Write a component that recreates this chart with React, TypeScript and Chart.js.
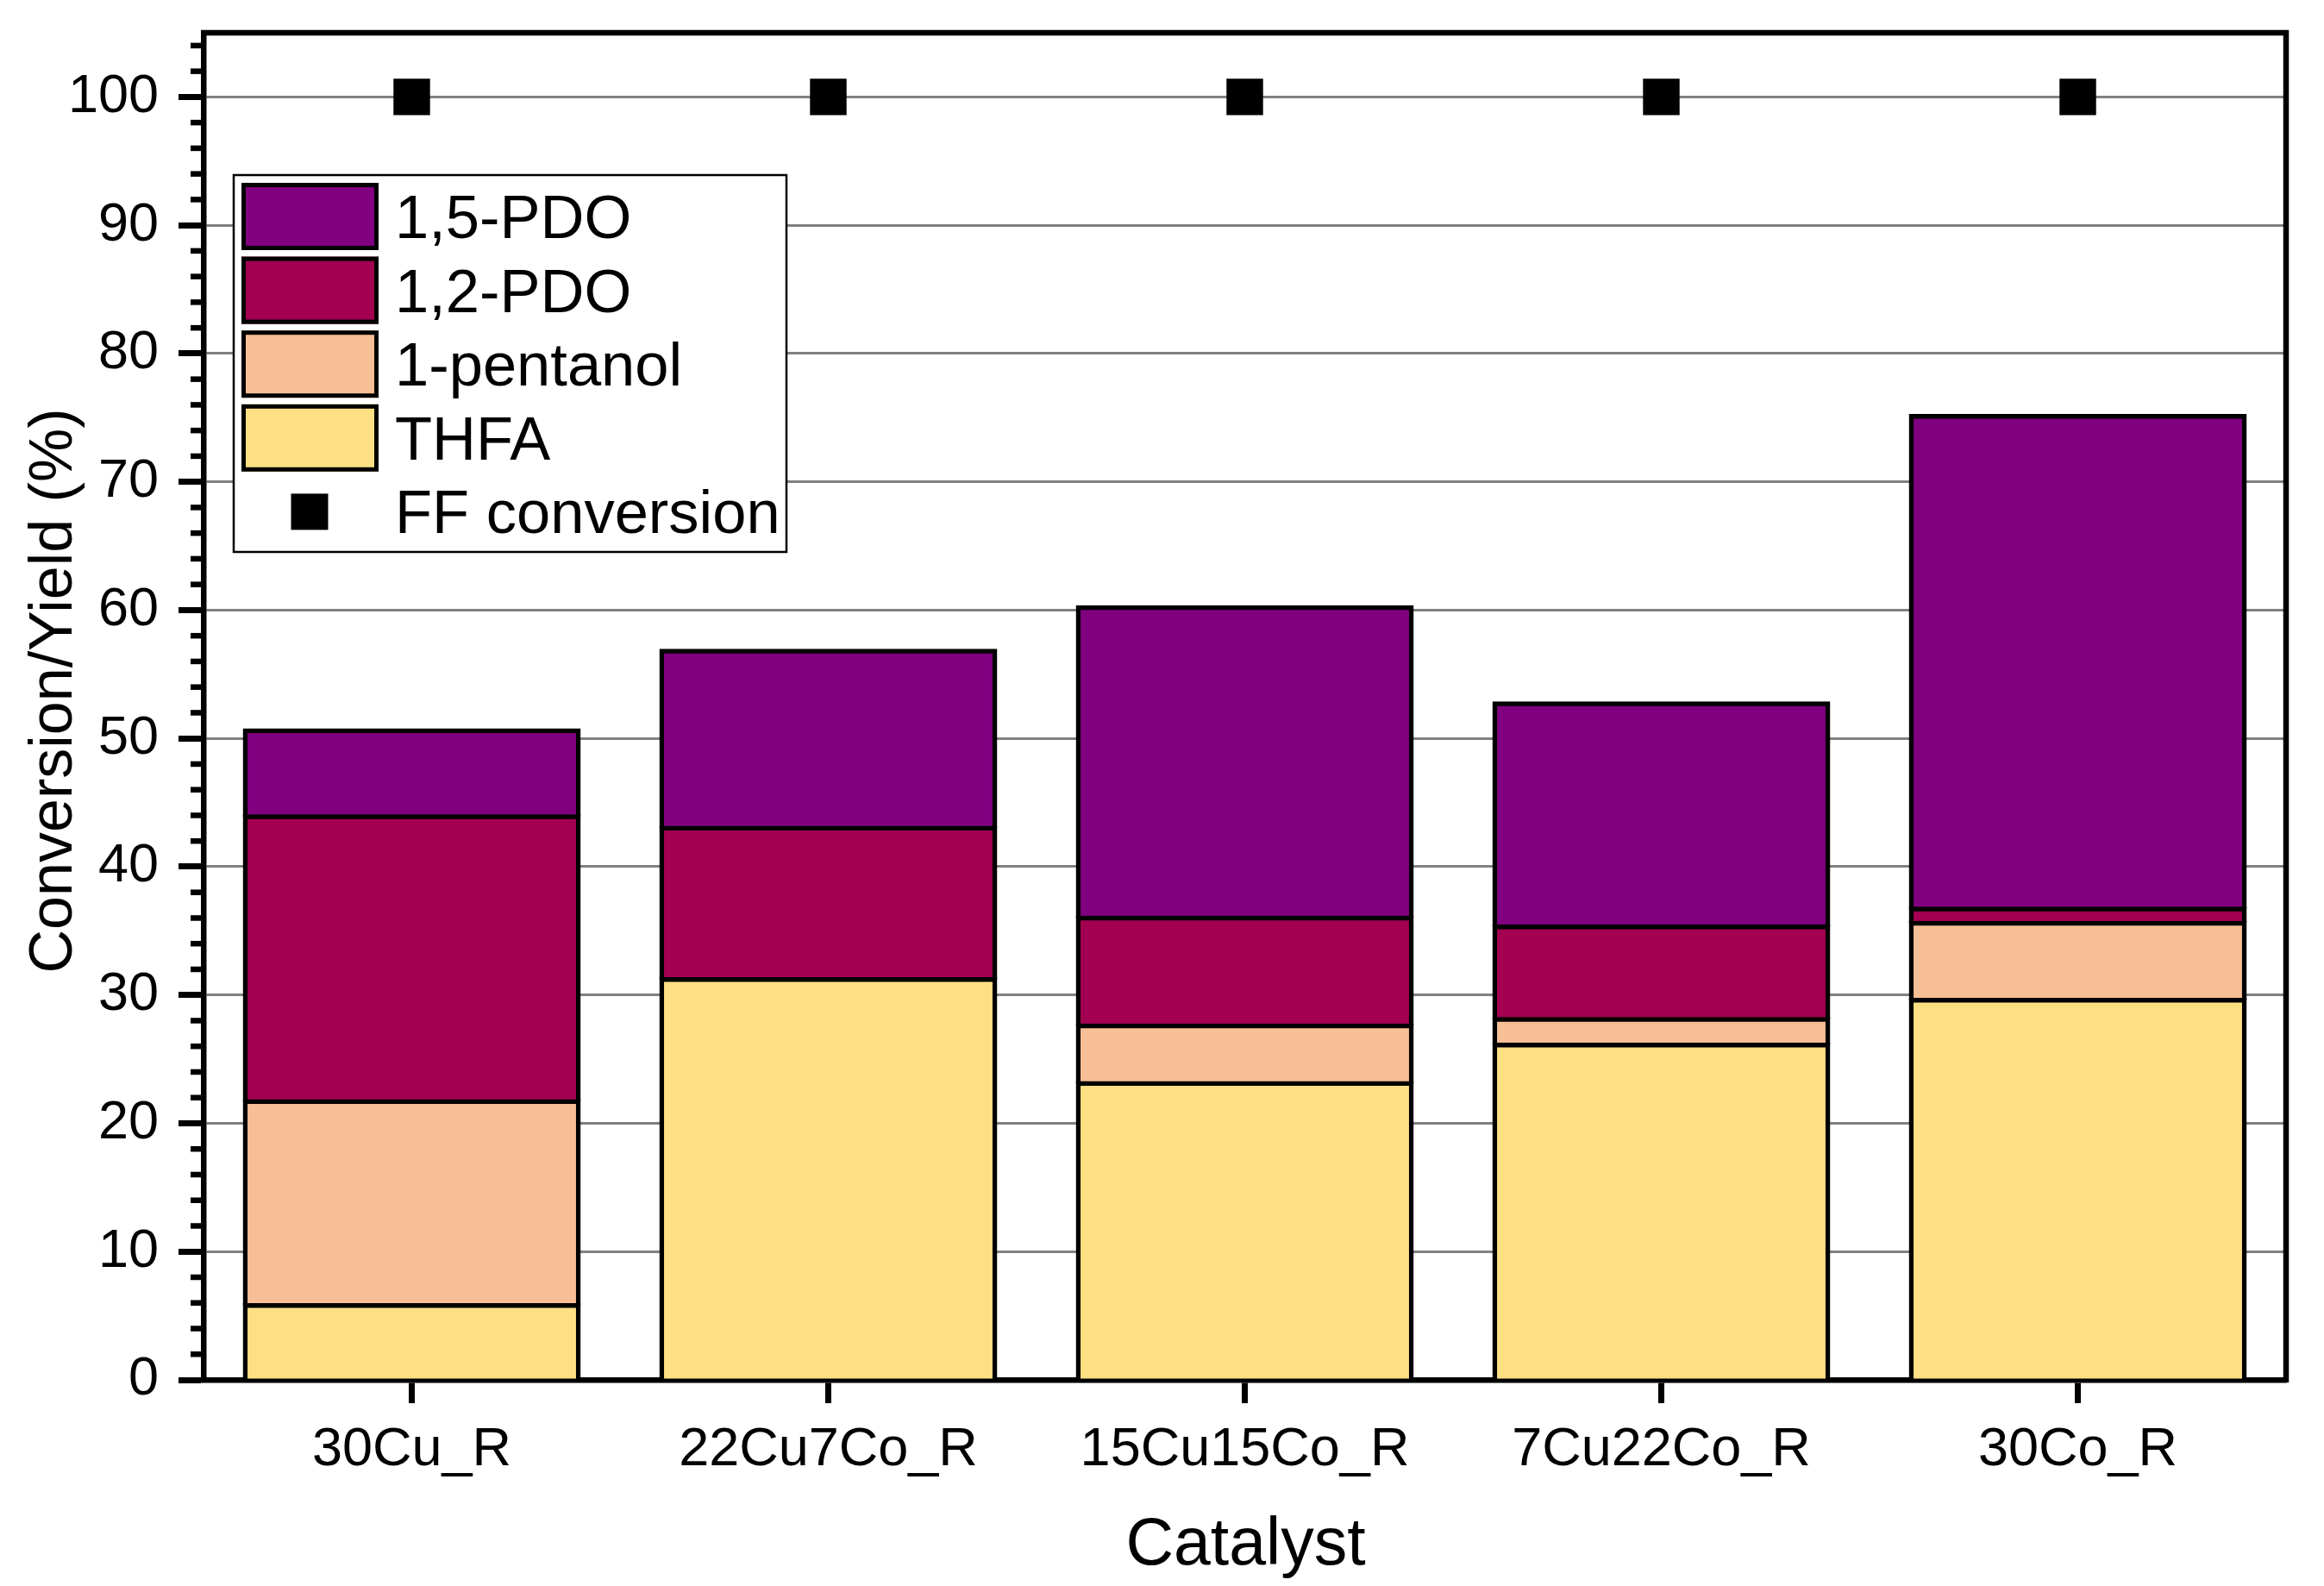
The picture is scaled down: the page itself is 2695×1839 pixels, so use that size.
import React, { useEffect, useRef } from 'react';
import { Chart, registerables } from 'chart.js';

Chart.register(...registerables);

const categories = ['30Cu_R', '22Cu7Co_R', '15Cu15Co_R', '7Cu22Co_R', '30Co_R'];
const thfa = [5.8, 31.2, 23.1, 26.1, 29.6];
const pentanol = [15.9, 0, 4.5, 2.0, 6.0];
const pdo12 = [22.2, 11.8, 8.4, 7.2, 1.1];
const pdo15 = [6.7, 13.8, 24.2, 17.4, 38.4];
const ffConversion = [100, 100, 100, 100, 100];

const seriesLabels = ['THFA', '1-pentanol', '1,2-PDO', '1,5-PDO', 'FF conversion'];
const seriesColors = ['#FEE084', '#F7BF95', '#A30052', '#800080', '#000000'];

const yMin = 0;
const yMax = 105;
const yMajorStep = 10;
const yMinorStep = 2;
const xTitle = 'Catalyst';
const yTitle = 'Conversion/Yield (%)';

const FONT = "'Liberation Sans', Arial, sans-serif";

const framePlugin = {
  id: 'frameAndExtras',
  afterDraw(chart: any) {
    const ctx = chart.ctx;
    const { left, right, top, bottom } = chart.chartArea;
    const yScale = chart.scales.y;

    ctx.save();
    // minor ticks
    ctx.strokeStyle = '#000';
    ctx.lineWidth = 6.5;
    for (let v = yMin + yMinorStep; v <= yMax; v += yMinorStep) {
      if (Math.abs(v % yMajorStep) < 1e-9) continue;
      const py = yScale.getPixelForValue(v);
      ctx.beginPath();
      ctx.moveTo(left - 15, py);
      ctx.lineTo(left, py);
      ctx.stroke();
    }
    // top and right frame
    ctx.lineWidth = 6.5;
    ctx.beginPath();
    ctx.moveTo(left - 3, top);
    ctx.lineTo(right, top);
    ctx.lineTo(right, bottom + 3);
    ctx.stroke();

    // axis titles
    ctx.fillStyle = '#000';
    ctx.font = `70px ${FONT}`;
    ctx.textAlign = 'center';
    ctx.textBaseline = 'alphabetic';
    ctx.save();
    ctx.translate(left - 153, (top + bottom) / 2 - 18);
    ctx.rotate(-Math.PI / 2);
    ctx.fillText(yTitle, 0, 0);
    ctx.restore();

    ctx.font = `77px ${FONT}`;
    ctx.fillText(xTitle, (left + right) / 2 + 1, bottom + 214);

    // legend
    const ds = chart.data.datasets;
    const order = [3, 2, 1, 0, 4];
    const bx = left + 35;
    const by = top + 165;
    const bw = 641;
    const bh = 437;
    ctx.fillStyle = '#fff';
    ctx.fillRect(bx, by, bw, bh);
    ctx.strokeStyle = '#000';
    ctx.lineWidth = 2.5;
    ctx.strokeRect(bx, by, bw, bh);
    ctx.font = `70.5px ${FONT}`;
    ctx.textAlign = 'left';
    order.forEach((di: number, i: number) => {
      const d = ds[di];
      const cy = by + 48 + i * 85.6;
      if (d.type === 'line') {
        ctx.fillStyle = d.backgroundColor;
        ctx.fillRect(bx + 88 - 21.5, cy - 21, 43, 42);
      } else {
        ctx.fillStyle = d.backgroundColor;
        ctx.fillRect(bx + 9, cy - 39, 159, 78);
        ctx.lineWidth = 5;
        ctx.strokeStyle = '#000';
        ctx.strokeRect(bx + 9 + 2.5, cy - 39 + 2.5, 159 - 5, 78 - 5);
      }
      ctx.fillStyle = '#000';
      ctx.fillText(d.label, bx + 187, cy + 25);
    });
    ctx.restore();
  },
};

function barDataset(i: number, data: number[]) {
  return {
    type: 'bar' as const,
    label: seriesLabels[i],
    data,
    backgroundColor: seriesColors[i],
    borderColor: '#000',
    borderWidth: 5.5,
    borderSkipped: 'start' as const,
    inflateAmount: 2.75,
    stack: 'yield',
    categoryPercentage: 0.8,
    barPercentage: 1.0,
    order: 1,
  };
}

export default function App() {
  const ref = useRef<HTMLCanvasElement | null>(null);

  useEffect(() => {
    if (!ref.current) return;
    const chart = new Chart(ref.current, {
      type: 'bar',
      data: {
        labels: categories,
        datasets: [
          barDataset(0, thfa),
          barDataset(1, pentanol),
          barDataset(2, pdo12),
          barDataset(3, pdo15),
          {
            type: 'line' as const,
            label: seriesLabels[4],
            data: ffConversion,
            showLine: false,
            pointStyle: 'rect',
            pointRadius: 30,
            pointHoverRadius: 30,
            backgroundColor: seriesColors[4],
            borderColor: seriesColors[4],
            borderWidth: 0,
            stack: 'ff',
            order: 0,
          } as any,
        ],
      },
      options: {
        responsive: false,
        animation: false,
        devicePixelRatio: 1,
        events: [],
        layout: { padding: { left: 0, right: 44, top: 38, bottom: 0 } },
        plugins: {
          legend: { display: false },
          tooltip: { enabled: false },
          title: { display: false },
        },
        scales: {
          x: {
            type: 'category',
            stacked: true,
            offset: true,
            grid: {
              offset: false,
              drawOnChartArea: false,
              drawTicks: true,
              tickLength: 27,
              tickWidth: 7,
              tickColor: '#000',
            },
            border: { display: true, color: '#000', width: 6.5 },
            ticks: {
              color: '#000',
              font: { family: FONT, size: 63 },
              padding: 17,
              maxRotation: 0,
              autoSkip: false,
            },
            afterFit(scale: any) {
              scale.height = 239;
              scale.paddingLeft = 0;
              scale.paddingRight = 0;
            },
          },
          y: {
            type: 'linear',
            stacked: true,
            min: yMin,
            max: yMax,
            grid: {
              color: (c: any) => (c.tick && c.tick.value === 0 ? 'rgba(0,0,0,0)' : '#808080'),
              lineWidth: 3,
              drawTicks: true,
              tickLength: 29,
              tickWidth: 7,
              tickColor: '#000',
            },
            border: { display: true, color: '#000', width: 6.5 },
            ticks: {
              stepSize: yMajorStep,
              includeBounds: false,
              color: '#000',
              font: { family: FONT, size: 63 },
              padding: 23,
            },
            afterFit(scale: any) {
              scale.width = 236;
              scale.paddingTop = 0;
              scale.paddingBottom = 0;
            },
          },
        },
      },
      plugins: [framePlugin],
    } as any);
    return () => chart.destroy();
  }, []);

  return (
    <div style={{ position: 'absolute', left: 0, top: 0, width: 2695, height: 1839, background: '#fff', overflow: 'hidden' }}>
      <canvas ref={ref} width={2695} height={1839} style={{ display: 'block', width: 2695, height: 1839 }} />
    </div>
  );
}
